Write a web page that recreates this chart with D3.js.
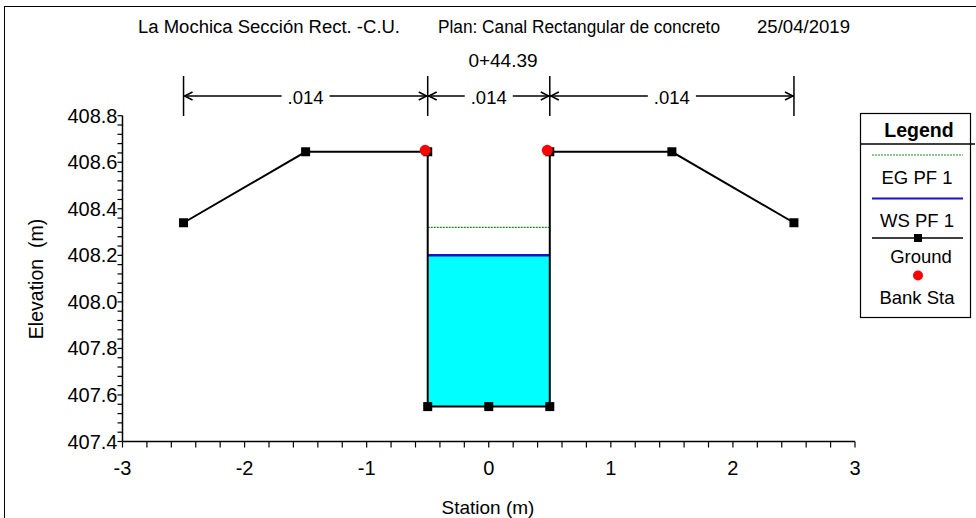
<!DOCTYPE html>
<html>
<head>
<meta charset="utf-8">
<script src="https://cdn.jsdelivr.net/npm/d3@7"></script>
<style>
  html, body { margin: 0; padding: 0; background: #fff; }
  svg { display: block; }
  text { font-family: "Liberation Sans", Arial, sans-serif; fill: #000; }
</style>
</head>
<body>
<svg id="chart" width="976" height="518"></svg>
<script>
// ---- data ----
const groundStation = [-2.5, -1.5, -0.5, -0.5, 0, 0.5, 0.5, 1.5, 2.5];
const groundElev    = [408.34, 408.645, 408.645, 407.55, 407.55, 407.55, 408.645, 408.645, 408.34];
const bankStation   = [-0.5, 0.5];
const bankElev      = [408.645, 408.645];
const wsElev = 408.2;   // WS PF 1
const egElev = 408.32;  // EG PF 1
const nStations = [-2.5, -0.5, 0.5, 2.5];
const nValues   = [".014", ".014", ".014"];
const xTicks = [-3, -2, -1, 0, 1, 2, 3];
const yTicks = [407.4, 407.6, 407.8, 408.0, 408.2, 408.4, 408.6, 408.8];
const titleParts = ["La Mochica Sección Rect. -C.U.", "Plan: Canal Rectangular de concreto", "25/04/2019"];
const stationLabel = "0+44.39";
const legendItems = ["EG PF 1", "WS PF 1", "Ground", "Bank Sta"];

const svg = d3.select("#chart");

// outer frame
svg.append("rect").attr("x", 4.5).attr("y", 6.5).attr("width", 1200).attr("height", 1200)
  .attr("fill", "none").attr("stroke", "#000").attr("stroke-width", 1);

const x = d3.scaleLinear().domain([-3, 3]).range([122.5, 855]);
const y = d3.scaleLinear().domain([407.4, 408.8]).range([441.5, 115.7]);

// title
const titleX = [138, 438, 757];
const titleW = [262, 282, 93];
titleParts.forEach((t, i) => {
  svg.append("text").attr("x", titleX[i]).attr("y", 33).attr("font-size", 18)
    .attr("textLength", titleW[i]).attr("lengthAdjust", "spacingAndGlyphs").text(t);
});
svg.append("text").attr("x", 503).attr("y", 67).attr("text-anchor", "middle")
  .attr("font-size", 19).text(stationLabel);

// Manning's n markers
const nY = 96;
nStations.forEach(s => {
  svg.append("line").attr("x1", x(s)).attr("x2", x(s)).attr("y1", 76).attr("y2", 116)
    .attr("stroke", "#000").attr("stroke-width", 1.5);
});
nValues.forEach((v, i) => {
  const x0 = x(nStations[i]), x1 = x(nStations[i + 1]);
  const cx = (x0 + x1) / 2;
  const t = svg.append("text").attr("x", cx).attr("y", nY + 8).attr("text-anchor", "middle")
    .attr("font-size", 18.5).text(v);
  const w = t.node().getComputedTextLength();
  const gap = w / 2 + 6;
  svg.append("line").attr("x1", x0).attr("x2", cx - gap).attr("y1", nY).attr("y2", nY)
    .attr("stroke", "#000").attr("stroke-width", 1.5);
  svg.append("line").attr("x1", cx + gap).attr("x2", x1).attr("y1", nY).attr("y2", nY)
    .attr("stroke", "#000").attr("stroke-width", 1.5);
  // arrowheads
  svg.append("path").attr("d", `M${x0 + 9},${nY - 4} L${x0 + 1},${nY} L${x0 + 9},${nY + 4}`)
    .attr("fill", "none").attr("stroke", "#000").attr("stroke-width", 1.5);
  svg.append("path").attr("d", `M${x1 - 9},${nY - 4} L${x1 - 1},${nY} L${x1 - 9},${nY + 4}`)
    .attr("fill", "none").attr("stroke", "#000").attr("stroke-width", 1.5);
});

// water fill
const pts = groundStation.map((s, i) => ({ s, e: groundElev[i] }));
const wet = pts.filter(p => p.e < wsElev);
svg.append("path").datum(wet)
  .attr("d", d3.area().x(d => x(d.s)).y0(d => y(d.e)).y1(() => y(wsElev)))
  .attr("fill", "#00ffff").attr("stroke", "none");

const xLo = d3.min(wet, d => d.s), xHi = d3.max(wet, d => d.s);
// EG line
svg.append("line").attr("x1", x(xLo)).attr("x2", x(xHi)).attr("y1", y(egElev)).attr("y2", y(egElev))
  .attr("stroke", "#1f8a1f").attr("stroke-width", 1.2).attr("stroke-dasharray", "2,1");
// WS line
svg.append("line").attr("x1", x(xLo)).attr("x2", x(xHi)).attr("y1", y(wsElev)).attr("y2", y(wsElev))
  .attr("stroke", "#1414cc").attr("stroke-width", 2.5);

// ground line
svg.append("path").datum(pts)
  .attr("d", d3.line().x(d => x(d.s)).y(d => y(d.e)))
  .attr("fill", "none").attr("stroke", "#000").attr("stroke-width", 2);
svg.selectAll(".gpt").data(pts).enter().append("rect")
  .attr("x", d => x(d.s) - 4.5).attr("y", d => y(d.e) - 4.5).attr("width", 9).attr("height", 9)
  .attr("fill", "#000");

// bank stations
svg.selectAll(".bank").data(bankStation).enter().append("circle")
  .attr("cx", (d) => x(d) - 2.5).attr("cy", (d, i) => y(bankElev[i]) - 1.5).attr("r", 5.5)
  .attr("fill", "#ff0000");

// axes
const xAxis = svg.append("g").attr("transform", `translate(0,${y(407.4)})`);
xAxis.append("line").attr("x1", x(-3)).attr("x2", x(3)).attr("stroke", "#000").attr("stroke-width", 1.5);
d3.range(-3, 3.001, 0.2).forEach(v => {
  xAxis.append("line").attr("x1", x(v)).attr("x2", x(v)).attr("y1", 0).attr("y2", 6)
    .attr("stroke", "#000").attr("stroke-width", 1.2);
});
xTicks.forEach(v => {
  xAxis.append("text").attr("x", x(v)).attr("y", 33).attr("text-anchor", "middle")
    .attr("font-size", 20).text(d3.format("d")(v).replace("−", "-"));
});

const yAxis = svg.append("g").attr("transform", `translate(${x(-3)},0)`);
yAxis.append("line").attr("y1", y(407.4)).attr("y2", y(408.8)).attr("stroke", "#000").attr("stroke-width", 1.5);
d3.range(0, 35.001, 1).forEach(k => {
  const v = 407.4 + k * 0.04;
  yAxis.append("line").attr("x1", -5).attr("x2", 0).attr("y1", y(v)).attr("y2", y(v))
    .attr("stroke", "#000").attr("stroke-width", 1.2);
});
yTicks.forEach(v => {
  yAxis.append("text").attr("x", -5).attr("y", y(v) + 7).attr("text-anchor", "end")
    .attr("font-size", 20).text(d3.format(".1f")(v));
});

// axis titles
svg.append("text").attr("x", 488).attr("y", 514).attr("text-anchor", "middle")
  .attr("font-size", 19).text("Station (m)");
svg.append("text").attr("transform", "translate(43,279) rotate(-90)").attr("text-anchor", "middle")
  .attr("font-size", 19.5).style("white-space", "pre").text("Elevation  (m)");

// legend
const lg = svg.append("g");
lg.append("rect").attr("x", 860.5).attr("y", 113.5).attr("width", 110).attr("height", 204)
  .attr("fill", "#fff").attr("stroke", "#000").attr("stroke-width", 1.2);
lg.append("line").attr("x1", 860.5).attr("x2", 975).attr("y1", 144).attr("y2", 144)
  .attr("stroke", "#000").attr("stroke-width", 1.5);
lg.append("text").attr("x", 919).attr("y", 137).attr("text-anchor", "middle")
  .attr("font-size", 19.5).attr("font-weight", "bold").text("Legend");
lg.append("line").attr("x1", 872).attr("x2", 963).attr("y1", 155).attr("y2", 155)
  .attr("stroke", "#1f8a1f").attr("stroke-width", 1).attr("stroke-dasharray", "2,1");
lg.append("text").attr("x", 917).attr("y", 184).attr("text-anchor", "middle").attr("font-size", 18.5)
  .text(legendItems[0]);
lg.append("line").attr("x1", 872).attr("x2", 963).attr("y1", 198.5).attr("y2", 198.5)
  .attr("stroke", "#1414cc").attr("stroke-width", 2);
lg.append("text").attr("x", 917).attr("y", 227).attr("text-anchor", "middle").attr("font-size", 18.5)
  .text(legendItems[1]);
lg.append("line").attr("x1", 872).attr("x2", 963).attr("y1", 238).attr("y2", 238)
  .attr("stroke", "#000").attr("stroke-width", 1.5);
lg.append("rect").attr("x", 914).attr("y", 234).attr("width", 8).attr("height", 8).attr("fill", "#000");
lg.append("text").attr("x", 921).attr("y", 263).attr("text-anchor", "middle").attr("font-size", 18.5)
  .text(legendItems[2]);
lg.append("circle").attr("cx", 918).attr("cy", 275.5).attr("r", 5).attr("fill", "#ff0000");
lg.append("text").attr("x", 917).attr("y", 304).attr("text-anchor", "middle").attr("font-size", 18.5)
  .text(legendItems[3]);
</script>
</body>
</html>
